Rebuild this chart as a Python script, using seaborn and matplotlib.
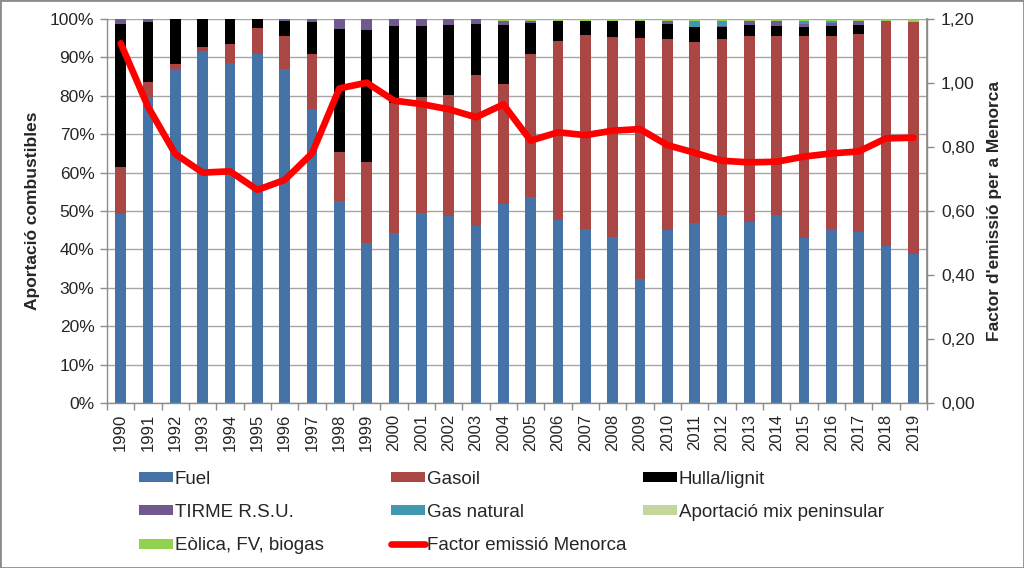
import numpy as np
import pandas as pd
import matplotlib
matplotlib.use("Agg")
import matplotlib.pyplot as plt
import seaborn as sns
from matplotlib.patches import Patch, Rectangle
from matplotlib.lines import Line2D
from matplotlib.ticker import FuncFormatter, MultipleLocator, FixedLocator

years = [str(y) for y in range(1990, 2020)]

# share of each source (%), bottom to top of the stack
fuel = [49.2, 79.7, 86.9, 91.7, 88.6, 91.0, 86.9, 76.5, 52.7, 41.6,
        44.4, 49.4, 48.8, 46.2, 51.9, 53.6, 47.7, 45.3, 43.2, 32.3,
        45.0, 46.9, 49.0, 47.1, 49.0, 43.0, 45.3, 44.5, 41.0, 38.9]
gasoil = [12.3, 4.0, 1.5, 1.1, 5.0, 6.6, 8.8, 14.5, 12.6, 21.1,
          33.8, 30.2, 31.3, 39.1, 31.1, 37.3, 46.6, 50.5, 52.1, 62.8,
          49.7, 47.0, 45.9, 48.6, 46.7, 52.6, 50.3, 51.6, 58.5, 60.4]
hulla = [37.2, 15.4, 11.6, 7.2, 6.4, 2.4, 3.9, 8.1, 32.1, 34.4,
         20.1, 18.7, 18.4, 13.4, 15.5, 8.1, 5.3, 3.8, 4.2, 4.3,
         4.1, 3.9, 3.1, 2.8, 2.6, 2.3, 2.6, 2.4, 0.0, 0.0]
tirme = [1.3, 0.9, 0.0, 0.0, 0.0, 0.0, 0.4, 0.9, 2.6, 2.9,
         1.7, 1.7, 1.5, 1.3, 1.1, 0.6, 0.0, 0.0, 0.0, 0.2,
         0.7, 0.0, 0.3, 0.9, 1.1, 0.7, 0.8, 0.9, 0.0, 0.0]
gas_natural = [0.0, 0.0, 0.0, 0.0, 0.0, 0.0, 0.0, 0.0, 0.0, 0.0,
               0.0, 0.0, 0.0, 0.0, 0.0, 0.0, 0.0, 0.0, 0.0, 0.0,
               0.0, 1.7, 1.2, 0.0, 0.0, 0.9, 0.4, 0.0, 0.0, 0.0]
mix_peninsular = [0.0] * 30
eolica = [0.0, 0.0, 0.0, 0.0, 0.0, 0.0, 0.0, 0.0, 0.0, 0.0,
          0.0, 0.0, 0.0, 0.0, 0.4, 0.4, 0.4, 0.4, 0.5, 0.5,
          0.5, 0.5, 0.5, 0.6, 0.6, 0.5, 0.6, 0.6, 0.5, 0.7]

# emission factor (right axis)
factor = [1.124, 0.926, 0.778, 0.720, 0.724, 0.666, 0.697, 0.780, 0.983, 1.001,
          0.945, 0.934, 0.918, 0.893, 0.933, 0.820, 0.846, 0.837, 0.851, 0.856,
          0.806, 0.782, 0.757, 0.752, 0.754, 0.770, 0.780, 0.786, 0.827, 0.829]

series = [
    ("Fuel", fuel, "#4572A7"),
    ("Gasoil", gasoil, "#AA4643"),
    ("Hulla/lignit", hulla, "#000000"),
    ("TIRME R.S.U.", tirme, "#71588F"),
    ("Gas natural", gas_natural, "#4198AF"),
    ("Aportació mix peninsular", mix_peninsular, "#C3D69B"),
    ("Eòlica, FV, biogas", eolica, "#92D050"),
]
line_label = "Factor emissió Menorca"

sns.set_theme(style="white")
plt.rcParams["font.family"] = ["Liberation Sans", "DejaVu Sans"]

fig = plt.figure(figsize=(10.24, 5.68), dpi=100)
ax = fig.add_axes([107 / 1024, 1 - 403 / 568, 820 / 1024, 384 / 568])

# stacked bars: draw cumulative totals from the top layer down
df = pd.DataFrame({"year": years})
cum = np.zeros(len(years))
cums = []
for name, vals, col in series:
    cum = cum + np.array(vals)
    cums.append((name, cum.copy(), col))
for name, c, col in reversed(cums):
    df["v"] = c
    sns.barplot(data=df, x="year", y="v", color=col, saturation=1,
                width=0.4, linewidth=0, ax=ax, zorder=2)

ax.set_ylim(0, 100)
ax.set_xlim(-0.5, len(years) - 0.5)
ax.set_xlabel("")
ax.set_ylabel("Aportació combustibles", fontsize=12.5, fontweight="bold", labelpad=7)
ax.yaxis.set_major_locator(MultipleLocator(10))
ax.yaxis.set_major_formatter(FuncFormatter(lambda v, p: f"{v:.0f}%"))
ax.grid(axis="y", color="#A6A6A6", lw=1, zorder=0)
ax.set_axisbelow(True)
ax.spines["top"].set_visible(False)
for s in ["left", "bottom", "right"]:
    ax.spines[s].set_color("#8C8C8C")
    ax.spines[s].set_linewidth(1)

ax.tick_params(axis="y", which="major", length=5, width=1, color="#8C8C8C",
               labelsize=12.5, pad=4, left=True)
ax.tick_params(axis="x", which="major", length=0, labelsize=12, pad=8,
               labelrotation=90)
ax.xaxis.set_minor_locator(FixedLocator(np.arange(-0.5, len(years), 1.0)))
ax.tick_params(axis="x", which="minor", length=5, width=1, color="#8C8C8C",
               bottom=True)

# emission factor on the secondary axis
ax2 = ax.twinx()
line_df = pd.DataFrame({"pos": np.arange(len(years)), "factor": factor})
sns.lineplot(data=line_df, x="pos", y="factor", color="#FF0000", lw=4.8,
             ax=ax2, solid_capstyle="round", zorder=5)
ax2.set_ylim(0, 1.2)
ax2.set_xlim(-0.5, len(years) - 0.5)
ax2.yaxis.set_major_locator(MultipleLocator(0.2))
ax2.yaxis.set_major_formatter(FuncFormatter(lambda v, p: f"{v:.2f}".replace(".", ",")))
ax2.set_ylabel("Factor d'emissió per a Menorca", fontsize=12.5,
               fontweight="bold", labelpad=9)
ax2.tick_params(axis="y", length=5, width=1, color="#8C8C8C", labelsize=12.5,
                pad=5, right=True)
for s in ["top", "left", "bottom"]:
    ax2.spines[s].set_visible(False)
ax2.spines["right"].set_color("#8C8C8C")
ax2.set_xlabel("")

# legend laid out in three columns like the original
handles = [Patch(facecolor=col, edgecolor="none") for _, _, col in series]
handles.append(Line2D([0], [0], color="#FF0000", lw=4.8, solid_capstyle="round"))
labels = [name for name, _, _ in series] + [line_label]
columns = [([0, 3, 6], 139), ([1, 4, 7], 391), ([2, 5], 643)]
for idx, xpx in columns:
    fig.legend([handles[i] for i in idx], [labels[i] for i in idx],
               loc="upper left", bbox_to_anchor=(xpx / 1024, 1 - 471 / 568),
               frameon=False, fontsize=13.5, handlelength=1.8, handleheight=0.45,
               handletextpad=0.1, labelspacing=0.86, borderpad=0,
               borderaxespad=0)

fig.patches.append(Rectangle((0, 0), 1, 1, transform=fig.transFigure,
                             fill=False, edgecolor="#8C8C8C", lw=2))

fig.savefig("out.png", dpi=100)
